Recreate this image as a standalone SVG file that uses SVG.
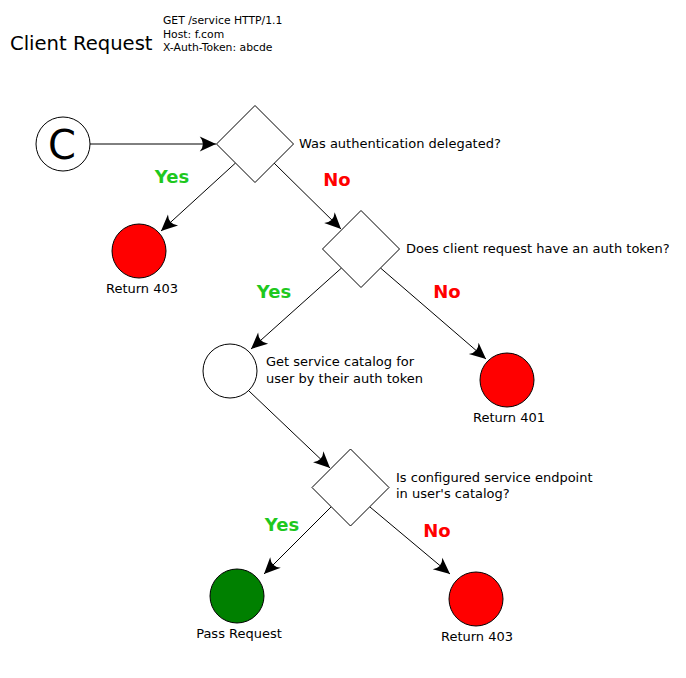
<svg xmlns="http://www.w3.org/2000/svg" width="686" height="678" viewBox="0 0 686 678">
<style>
text{font-family:"DejaVu Sans","Liberation Sans",sans-serif;fill:#000}
.lbl{font-size:13px}
.sm{font-size:10.8px}
.yes{font-size:18px;font-weight:bold;fill:#1ec81e}
.no{font-size:18px;font-weight:bold;fill:#ff0000}
.dia{fill:#fff;stroke:#000;stroke-width:1}
.edge{fill:none;stroke:#000;stroke-width:1;marker-end:url(#arr)}
.c{stroke:#000;stroke-width:1}
</style>
<defs>
<marker id="arr" markerUnits="userSpaceOnUse" markerWidth="20" markerHeight="20" viewBox="-14 -8 16 16" refX="0" refY="0" orient="auto">
<path d="M0,0 L-13,-6 Q-8,0 -13,6 Z" fill="#000"/>
</marker>
</defs>
<rect width="686" height="678" fill="#fff"/>
<g id="title">
<text x="10" y="50" style="font-size:19.6px">Client Request</text>
<text class="sm" x="163" y="24">GET /service HTTP/1.1</text>
<text class="sm" x="163" y="38">Host: f.com</text>
<text class="sm" x="163" y="51">X-Auth-Token: abcde</text>
</g>
<g id="connectors">
<path class="edge" d="M235.5,163 L161,231"/>
<path class="edge" d="M90,144 L216,144"/>
<path class="edge" d="M274,163 L341,229"/>
<path class="edge" d="M341.5,268 L251,349"/>
<path class="edge" d="M380.5,268 L486,359"/>
<path class="edge" d="M249,391 L330,468"/>
<path class="edge" d="M331,507 L264,574"/>
<path class="edge" d="M370,507 L450,574"/>
<text class="yes" x="172" y="183" text-anchor="middle">Yes</text>
<text class="no" x="337" y="186" text-anchor="middle">No</text>
<text class="yes" x="274" y="298" text-anchor="middle">Yes</text>
<text class="no" x="447" y="298" text-anchor="middle">No</text>
<text class="yes" x="282" y="531" text-anchor="middle">Yes</text>
<text class="no" x="437" y="537" text-anchor="middle">No</text>
</g>
<g id="start">
<circle class="c" cx="63" cy="144" r="27" fill="#fff"/>
<text x="62" y="159" text-anchor="middle" style="font-size:40px">C</text>
</g>
<g id="q1">
<path class="dia" d="M255,105.5 L293.5,144 L255,182.5 L216.5,144 Z"/>
<text class="lbl" x="299" y="148">Was authentication delegated?</text>
</g>
<g id="ret403a">
<circle class="c" cx="139" cy="251" r="27" fill="#ff0000"/>
<text class="lbl" x="142" y="293" text-anchor="middle">Return 403</text>
</g>
<g id="q2">
<path class="dia" d="M361,210.5 L399.5,249 L361,287.5 L322.5,249 Z"/>
<text class="lbl" x="406" y="253">Does client request have an auth token?</text>
</g>
<g id="catalog">
<circle class="c" cx="230" cy="371" r="27" fill="#fff"/>
<text class="lbl" x="266" y="366">Get service catalog for</text>
<text class="lbl" x="266" y="383">user by their auth token</text>
</g>
<g id="ret401">
<circle class="c" cx="507" cy="380" r="27" fill="#ff0000"/>
<text class="lbl" x="509" y="422" text-anchor="middle">Return 401</text>
</g>
<g id="q3">
<path class="dia" d="M350.5,449 L389,487.5 L350.5,526 L312,487.5 Z"/>
<text class="lbl" x="396" y="482">Is configured service endpoint</text>
<text class="lbl" x="396" y="498">in user's catalog?</text>
</g>
<g id="pass">
<circle class="c" cx="237" cy="596" r="27" fill="#008000"/>
<text class="lbl" x="239" y="638" text-anchor="middle">Pass Request</text>
</g>
<g id="ret403b">
<circle class="c" cx="476" cy="599" r="27" fill="#ff0000"/>
<text class="lbl" x="477" y="641" text-anchor="middle">Return 403</text>
</g>
</svg>
